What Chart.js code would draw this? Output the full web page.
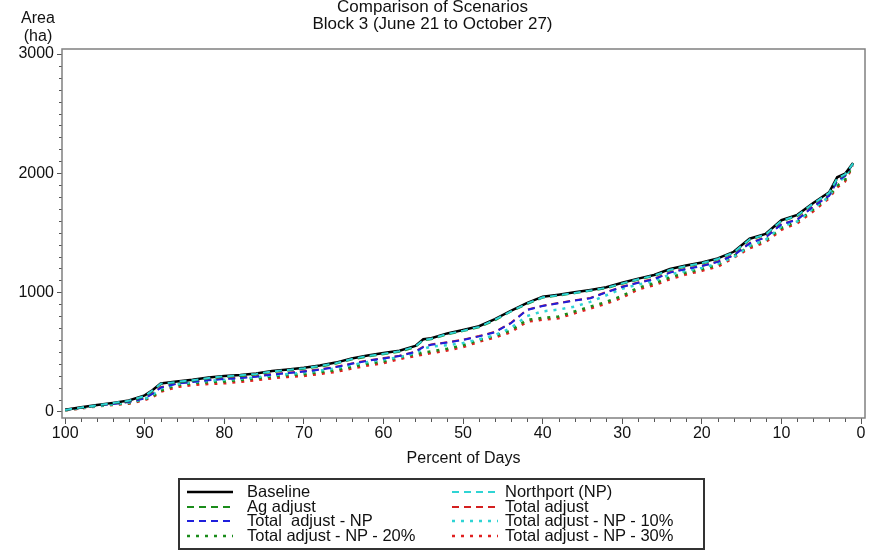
<!DOCTYPE html>
<html lang="en">
<head>
    <meta charset="UTF-8">
    <title>Comparison of Scenarios</title>
    <script src="https://cdn.jsdelivr.net/npm/chart.js"></script>
    <style>
        body { margin: 0; background: #fff; font-family: "Liberation Sans", Arial, sans-serif; }
        #wrap { position: relative; width: 882px; height: 550px; overflow: hidden; }
        #ylab { position: absolute; left: 17px; top: 9px; width: 42px; text-align: center; font-size: 16px; line-height: 18px; color: #111; }
        #legend { position: absolute; left: 178px; top: 478px; width: 527px; height: 72px; box-sizing: border-box;
                  border: 2px solid #333; padding-top: 4px; }
        .row { position: absolute; height: 15px; font-size: 16.5px; line-height: 15px; color: #111; white-space: pre; }
        .row svg { position: absolute; left: 0; top: 0; }
        .row span { position: absolute; top: 0; }
    </style>
</head>
<body>
<div id="wrap">
    <canvas id="mychart" width="882" height="550"></canvas>
    <div id="ylab">Area<br>(ha)</div>
    <div id="legend"></div>
</div>

<script>
    // percent of days (x) and area in ha for each scenario
    const pct = [100, 98, 96, 94, 92, 90, 89, 88, 86, 84, 82, 80, 78, 76, 74, 72, 70, 68, 66, 64, 62, 60, 58, 56, 55, 54,
                 52, 50, 48, 46, 44, 42, 40, 38, 36, 34, 32, 30, 28, 26, 24, 22, 20, 18, 16, 14, 12, 10, 8, 6, 4, 3, 2, 1];

    const baseline = [15, 35, 55, 72, 92, 135, 180, 235, 252, 266, 285, 298, 306, 318, 340, 352, 366, 385, 410, 445, 470, 490, 510, 550, 606, 615,
                      655, 684, 715, 775, 845, 910, 963, 980, 1000, 1020, 1042, 1080, 1115, 1145, 1195, 1225, 1250, 1285, 1340, 1450, 1490, 1605, 1650, 1750, 1840, 1965, 1995, 2085];
    const northport = [13, 33, 52, 70, 90, 130, 178, 232, 248, 262, 281, 294, 303, 315, 336, 348, 362, 381, 405, 440, 465, 485, 505, 545, 600, 610,
                       650, 678, 710, 770, 840, 905, 958, 975, 995, 1015, 1038, 1075, 1110, 1140, 1190, 1220, 1245, 1280, 1335, 1445, 1485, 1600, 1645, 1745, 1835, 1955, 1990, 2082];
    const agAdjust = [12, 30, 50, 68, 86, 125, 172, 228, 245, 258, 278, 290, 298, 310, 332, 344, 358, 376, 400, 436, 460, 480, 500, 540, 596, 606,
                      646, 674, 706, 765, 838, 900, 955, 972, 992, 1012, 1034, 1072, 1106, 1136, 1186, 1216, 1242, 1277, 1332, 1440, 1482, 1596, 1640, 1742, 1832, 1952, 1986, 2080];
    const totalAdj = [14, 32, 50, 64, 82, 113, 153, 204, 235, 251, 265, 275, 283, 295, 313, 325, 338, 353, 375, 403, 428, 448, 468, 503, 543, 563,
                      580, 603, 633, 668, 743, 853, 888, 911, 933, 953, 1003, 1048, 1083, 1113, 1168, 1198, 1223, 1258, 1313, 1413, 1463, 1573, 1613, 1723, 1813, 1938, 1978, 2082];
    const totalAdjNP = [12, 30, 48, 62, 80, 110, 150, 200, 232, 248, 262, 272, 280, 292, 310, 322, 335, 350, 372, 400, 425, 445, 465, 500, 540, 560,
                        578, 600, 630, 665, 740, 850, 885, 908, 930, 950, 1000, 1045, 1080, 1110, 1165, 1195, 1220, 1255, 1310, 1410, 1460, 1570, 1610, 1720, 1810, 1935, 1975, 2080];
    const np10 = [11, 28, 46, 60, 76, 105, 140, 192, 228, 244, 256, 266, 274, 286, 303, 314, 327, 342, 362, 390, 415, 436, 455, 490, 525, 545,
                  555, 575, 605, 640, 700, 800, 840, 855, 880, 920, 975, 1030, 1065, 1095, 1150, 1180, 1205, 1240, 1295, 1390, 1440, 1555, 1595, 1705, 1800, 1920, 1965, 2078];
    const np20 = [10, 28, 45, 58, 70, 102, 128, 175, 220, 237, 245, 251, 263, 277, 293, 305, 313, 330, 347, 375, 400, 420, 455, 480, 493, 505,
                  527, 555, 600, 635, 680, 768, 785, 797, 839, 880, 920, 970, 1040, 1075, 1125, 1165, 1195, 1230, 1305, 1385, 1435, 1540, 1595, 1695, 1805, 1895, 1945, 2070];
    const np30 = [8, 25, 42, 55, 65, 95, 119, 165, 205, 222, 230, 236, 248, 262, 278, 290, 298, 315, 332, 360, 385, 405, 440, 465, 478, 490,
                  512, 540, 585, 620, 665, 753, 770, 782, 824, 865, 905, 955, 1025, 1060, 1110, 1150, 1180, 1215, 1290, 1370, 1420, 1525, 1580, 1680, 1790, 1880, 1930, 2065];

    const yTicks = [0, 1000, 2000, 3000];
    const xTicks = [100, 90, 80, 70, 60, 50, 40, 30, 20, 10, 0];

    const DASHED = [7, 5];
    const DOTTED = [3, 6];

    const series = [
        {label: 'Baseline', data: baseline, color: '#000000', dash: [], width: 2.5, order: 1, col: 0},
        {label: 'Ag adjust', data: agAdjust, color: '#1a8c1a', dash: DASHED, width: 2, order: 3, col: 0},
        {label: 'Total  adjust - NP', data: totalAdjNP, color: '#1f1fdc', dash: DASHED, width: 2, order: 4, col: 0},
        {label: 'Total adjust - NP - 20%', data: np20, color: '#1a8c1a', dash: DOTTED, width: 2.5, order: 7, col: 0},
        {label: 'Northport (NP)', data: northport, color: '#2fd4d4', dash: DASHED, width: 2, order: 0, col: 1},
        {label: 'Total adjust', data: totalAdj, color: '#d42020', dash: DASHED, width: 2, order: 5, col: 1},
        {label: 'Total adjust - NP - 10%', data: np10, color: '#2fd4d4', dash: DOTTED, width: 2.5, order: 6, col: 1},
        {label: 'Total adjust - NP - 30%', data: np30, color: '#e02020', dash: DOTTED, width: 2.5, order: 8, col: 1}
    ];

    // frame round the plot area + minor ticks
    const framePlugin = {
        id: 'frame',
        afterDraw(chart) {
            const ctx = chart.ctx;
            const a = chart.chartArea;
            const xs = chart.scales.x, ys = chart.scales.y;
            ctx.save();
            ctx.strokeStyle = '#555';
            ctx.lineWidth = 1;
            ctx.beginPath();
            for (let v = 2; v < 100; v += 2) {
                if (v % 10 === 0) continue;
                const px = Math.round(xs.getPixelForValue(v)) + 0.5;
                ctx.moveTo(px, a.bottom);
                ctx.lineTo(px, a.bottom + 4);
            }
            for (let v = 100; v < 3000; v += 100) {
                if (v % 1000 === 0) continue;
                const py = Math.round(ys.getPixelForValue(v)) + 0.5;
                ctx.moveTo(a.left, py);
                ctx.lineTo(a.left - 3, py);
            }
            ctx.stroke();
            ctx.strokeStyle = '#808080';
            ctx.lineWidth = 1.5;
            ctx.strokeRect(a.left, a.top, a.right - a.left, a.bottom - a.top);
            ctx.restore();
        }
    };

    const setting = {
        type: 'line',
        data: {
            datasets: series.map(s => ({
                label: s.label,
                data: s.data.map((v, i) => ({x: pct[i], y: v})),
                borderColor: s.color,
                borderDash: s.dash,
                borderWidth: s.width,
                order: s.order,
                pointRadius: 0,
                tension: 0,
                fill: false
            }))
        },
        options: {
            responsive: false,
            animation: false,
            layout: {padding: {left: 0, right: 17, top: 0, bottom: 80}},
            plugins: {
                legend: {display: false},
                tooltip: {enabled: false},
                title: {
                    display: true,
                    text: ['Comparison of Scenarios', 'Block 3 (June 21 to October 27)'],
                    color: '#111',
                    font: {family: 'Liberation Sans', size: 17, weight: 'normal', lineHeight: 1.0},
                    padding: {top: -1, bottom: 16}
                }
            },
            scales: {
                x: {
                    type: 'linear',
                    reverse: true,
                    min: -0.5,
                    max: 100.4,
                    afterFit: s => { s.height = 52; },
                    afterBuildTicks: s => { s.ticks = xTicks.map(v => ({value: v})); },
                    border: {display: false},
                    grid: {drawOnChartArea: false, tickLength: 6, color: '#555'},
                    ticks: {color: '#111', padding: 0, maxRotation: 0, font: {family: 'Liberation Sans', size: 16},
                            callback: v => String(v)},
                    title: {display: true, text: 'Percent of Days', color: '#111', padding: {top: 0, bottom: 2},
                            font: {family: 'Liberation Sans', size: 16}}
                },
                y: {
                    min: -55,
                    max: 3042,
                    afterFit: s => { s.width = 62; },
                    afterBuildTicks: s => { s.ticks = yTicks.map(v => ({value: v})); },
                    border: {display: false},
                    grid: {drawOnChartArea: false, tickLength: 5, color: '#555'},
                    ticks: {color: '#111', padding: 3, font: {family: 'Liberation Sans', size: 16},
                            callback: v => String(v)}
                }
            }
        },
        plugins: [framePlugin]
    };

    new Chart(document.getElementById('mychart'), setting);

    // legend box, two columns
    const legend = document.getElementById('legend');
    const rowIdx = [0, 0];
    series.forEach(s => {
        const r = rowIdx[s.col]++;
        const row = document.createElement('div');
        row.className = 'row';
        row.style.left = (s.col === 0 ? 5 : 270) + 'px';
        row.style.top = (4 + r * 14.7) + 'px';
        row.style.width = '250px';
        const dash = s.dash.length ? s.dash.join(' ') : 'none';
        row.innerHTML = '<svg width="50" height="15"><line x1="2" y1="8" x2="48" y2="8" stroke="' + s.color +
            '" stroke-width="' + s.width + '" stroke-dasharray="' + dash + '"/></svg>';
        const t = document.createElement('span');
        t.style.left = (s.col === 0 ? 62 : 55) + 'px';
        t.textContent = s.label;
        row.appendChild(t);
        legend.appendChild(row);
    });
</script>
</body>
</html>
